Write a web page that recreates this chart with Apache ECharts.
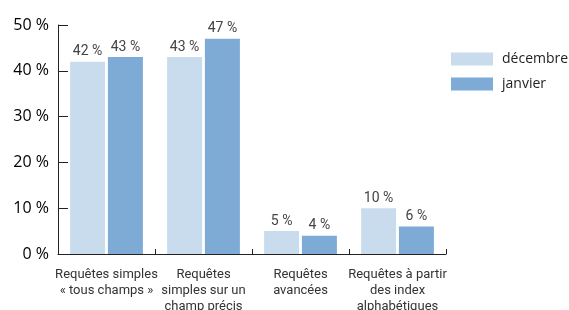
<!DOCTYPE html>
<html>
<head>
<meta charset="utf-8">
<script src="https://cdn.jsdelivr.net/npm/echarts@6/dist/echarts.min.js"></script>
<style>
  html, body { margin: 0; padding: 0; background: #fff; }
  #chart { width: 569px; height: 310px; }
</style>
</head>
<body>
<div id="chart"></div>
<script>
const categories = [
  "Requêtes simples\n« tous champs »",
  "Requêtes\nsimples sur un\nchamp précis",
  "Requêtes\navancées",
  "Requêtes à partir\ndes index\nalphabétiques",
];
const decembre = [42, 43, 5, 10];
const janvier = [43, 47, 4, 6];
const seriesNames = ["décembre", "janvier"];
const yTicks = { min: 0, max: 50, interval: 10 };

const narrowFont = "Roboto, sans-serif";

const chart = echarts.init(document.getElementById("chart"));

const labelStyle = {
  show: true,
  position: "top",
  distance: 3,
  formatter: "{c} %",
  color: "#444",
  fontSize: 14,
  fontFamily: narrowFont,
};

chart.setOption({
  animation: false,
  color: ["#c9dcee", "#7eaad6"],
  grid: {
    left: 58,
    right: 123,
    top: 25,
    bottom: 56,
    containLabel: false,
    outerBoundsMode: "none",
  },
  legend: {
    orient: "vertical",
    left: 446,
    top: 47,
    itemWidth: 42,
    itemHeight: 13,
    itemGap: 11,
    icon: "rect",
    textStyle: {
      fontSize: 14,
      color: "#222",
      padding: [0, 0, 0, 4],
      fontFamily: "Open Sans, sans-serif",
    },
    data: seriesNames,
  },
  xAxis: {
    type: "category",
    data: categories,
    axisLine: { lineStyle: { color: "#222", width: 1 } },
    axisTick: { show: true, inside: true, length: 5, lineStyle: { color: "#222" } },
    axisLabel: {
      color: "#333",
      fontSize: 13,
      lineHeight: 16,
      margin: 13,
      interval: 0,
      fontFamily: narrowFont,
    },
  },
  yAxis: {
    type: "value",
    min: yTicks.min,
    max: yTicks.max,
    interval: yTicks.interval,
    axisLine: { show: true, lineStyle: { color: "#222", width: 1 } },
    axisTick: { show: true, inside: true, length: 10, lineStyle: { color: "#222" } },
    splitLine: { show: false },
    axisLabel: {
      formatter: "{value} %",
      color: "#000",
      fontSize: 16,
      fontWeight: 500,
      margin: 9,
      fontFamily: "Open Sans, sans-serif",
    },
  },
  series: [
    {
      name: seriesNames[0],
      type: "bar",
      data: decembre,
      barWidth: 35,
      barGap: "8%",
      label: labelStyle,
    },
    {
      name: seriesNames[1],
      type: "bar",
      data: janvier,
      barWidth: 35,
      barGap: "8%",
      label: labelStyle,
    },
  ],
});

window.addEventListener("resize", () => {
  chart.resize();
});
</script>
</body>
</html>
